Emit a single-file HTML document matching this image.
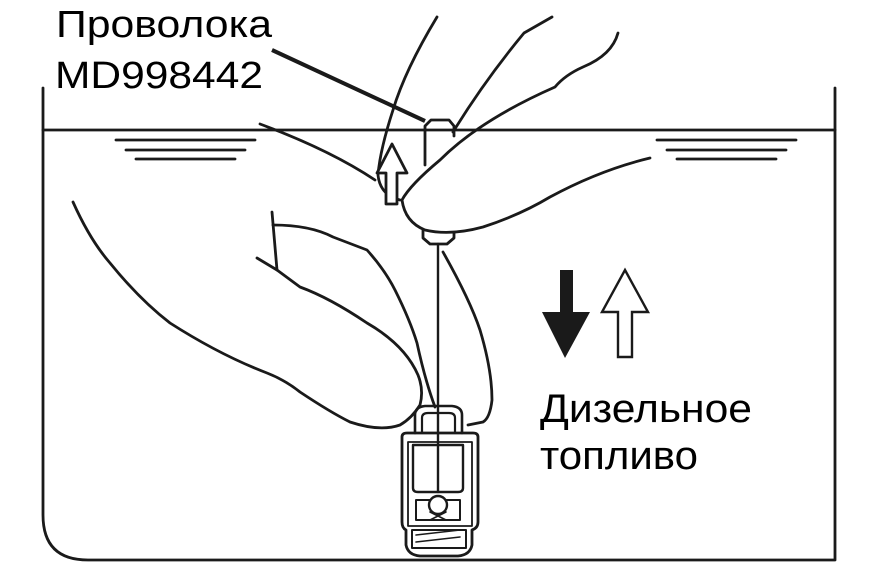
<!DOCTYPE html>
<html><head><meta charset="utf-8"><style>
html,body{margin:0;padding:0;background:#fff;}
svg{display:block;}
text{font-family:"Liberation Sans",sans-serif;fill:#000;}
</style></head><body>
<svg width="877" height="568" viewBox="0 0 877 568" xmlns="http://www.w3.org/2000/svg">
<g fill="none" stroke="#1a1a1a" stroke-width="2.8" stroke-linejoin="round" stroke-linecap="round">
<!-- tank -->
<path d="M43 88 V515 Q43 560 88 560 H835 V88"/>
<line x1="43" y1="130" x2="835" y2="130"/>
<line x1="116" y1="140" x2="255" y2="140"/><line x1="126" y1="150" x2="245" y2="150"/><line x1="136" y1="159" x2="235" y2="159"/>
<line x1="657" y1="140" x2="796" y2="140"/><line x1="667" y1="150" x2="786" y2="150"/><line x1="677" y1="159" x2="776" y2="159"/>
<!-- upper hand -->
<path d="M437 17 Q405 70 393 110 Q380 150 378 175 Q380 195 400 200"/>
<path d="M552 17 L524 33 Q485 80 453 132"/>
<path d="M260 124 Q330 150 375 180"/>
<path d="M618 33 Q612 55 583 67 Q565 75 555 87 Q480 120 440 160 Q410 185 402 200 Q405 222 425 230 Q450 236 483 227 Q520 215 550 197 Q600 170 650 158"/>
<!-- holder -->
<path d="M425 165 V126 L431 120 H449 L454 126 V136"/>
<path d="M423 230 V238 L430 244 H447 L454 238 V233"/>
<!-- small up arrow -->
<path d="M392 144 L407 173 H397 V204 H386 V173 H377 Z" fill="#fff"/>
<!-- wire -->
<line x1="438" y1="244" x2="438" y2="492" stroke-width="2.4"/>
<!-- lower hand -->
<path d="M73 202 Q90 240 110 263 Q140 300 170 323 Q220 355 267 373 Q285 380 300 392 Q330 412 350 422 Q380 432 400 425 Q412 418 420 405 Q424 390 418 375 Q405 345 367 323 Q330 298 300 287 L277 270 L257 258"/>
<path d="M272 212 L277 270"/>
<path d="M273 225 Q310 225 333 237 L367 250 Q385 270 395 290 Q410 320 417 343 Q425 380 435 407"/>
<path d="M443 252 Q470 300 480 330 Q492 370 492 400 Q490 418 483 422 L468 425"/>
<!-- valve -->
<path d="M415 433 V415 Q415 407 425 406 H452 Q462 407 462 415 V433" stroke-width="2.6"/>
<path d="M422 433 V418 Q422 413 428 413 H449 Q455 413 455 418 V433" stroke-width="2.2"/>
<path d="M402 437 Q402 433 407 433 H473 Q478 433 478 437 V522 Q478 528 472 530 V545 Q470 555 458 556 H420 Q408 555 406 545 V530 Q402 528 402 522 Z" stroke-width="2.8"/>
<path d="M408 442 H472 V526 H408 Z" stroke-width="1.8"/>
<path d="M413 445 H463 V488 Q463 492 458 492 H418 Q413 492 413 488 Z" stroke-width="2.4"/>
<path d="M416 500 H460 V520 H416 Z" stroke-width="2"/>
<circle cx="438" cy="505" r="9" fill="#fff" stroke-width="2.4"/>
<path d="M412 530 H466 V548 H412 Z" stroke-width="2"/>
<path d="M416 535 L460 530 M416 542 L460 537" stroke-width="1.6"/>
<path d="M430 520 L446 512 M430 512 L446 520" stroke-width="1.6"/>
</g>
<!-- wire leader -->
<line x1="272" y1="50" x2="425" y2="121" stroke="#1a1a1a" stroke-width="4"/>
<!-- big arrows -->
<path d="M560 270 H573 V312 H590 L565 358 L542 312 H560 Z" fill="#1a1a1a"/>
<path d="M625 270 L648 312 H632 V357 H618 V312 H602 Z" fill="#fff" stroke="#1a1a1a" stroke-width="2.4" stroke-linejoin="miter"/>
<!-- text -->
<text x="56" y="37" font-size="38" textLength="216" lengthAdjust="spacingAndGlyphs">Проволока</text>
<text x="55" y="88" font-size="38" textLength="208" lengthAdjust="spacingAndGlyphs">MD998442</text>
<text x="540" y="422" font-size="40" textLength="212" lengthAdjust="spacingAndGlyphs">Дизельное</text>
<text x="540" y="469" font-size="40" textLength="158" lengthAdjust="spacingAndGlyphs">топливо</text>
</svg>
</body></html>
